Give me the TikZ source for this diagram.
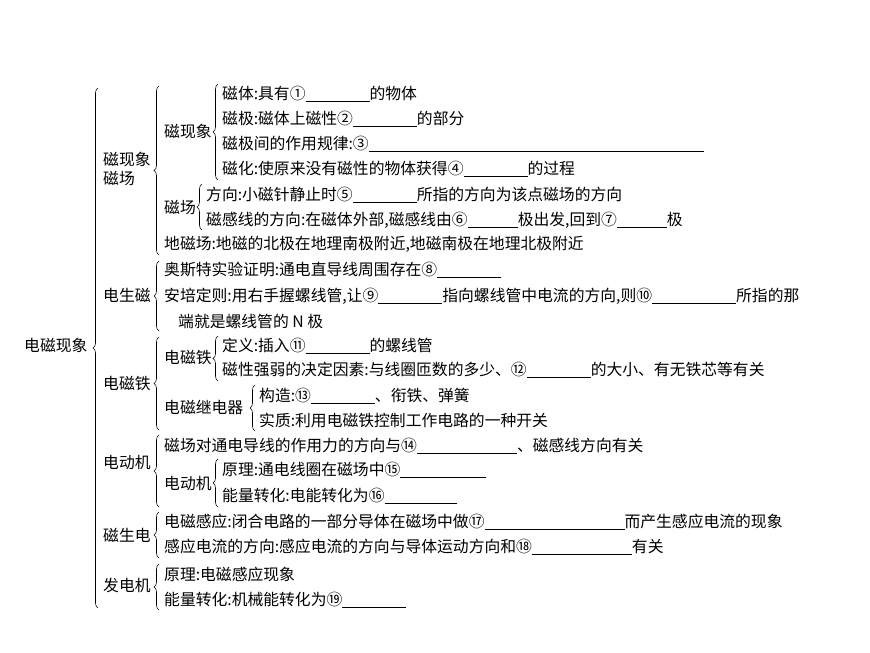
\documentclass[tikz,border=0pt]{standalone}
\usepackage{fontspec}
\setmainfont{Noto Sans CJK SC}
\usetikzlibrary{decorations.pathreplacing}
\newcommand\bl[1]{\rule[-2.5pt]{#1pt}{0.6pt}}
\tikzset{t/.style={anchor=west,inner sep=0pt,font=\fontsize{15.8}{19}\selectfont},
 br/.style={decorate,decoration={brace,amplitude=5pt},line width=0.6pt}}
\begin{document}
\begin{tikzpicture}[x=1pt,y=-1pt]
\useasboundingbox (0,0) rectangle (870,653);
\node[t] (root) at (24,345) {电磁现象};
\draw[br] (98,608) -- (98,88);
% level 1
\node[t,align=left] (cxx) at (103,169) {磁现象\\磁场};
\node[t] (dsc) at (103,295) {电生磁};
\node[t] (dct) at (103,383) {电磁铁};
\node[t] (ddj) at (103,462) {电动机};
\node[t] (csd) at (103,535) {磁生电};
\node[t] (fdj) at (103,585) {发电机};
% 磁现象 磁场
\draw[br] (159,255) -- (159,86);
\node[t] (cx) at (164,131) {磁现象};
\node[t] (cc) at (164,207) {磁场};
\node[t] (dcc) at (164,244) {地磁场:地磁的北极在地理南极附近,地磁南极在地理北极附近};
\draw[br] (218,180) -- (218,84);
\node[t] (a1) at (222,94) {磁体:具有①\bl{64}的物体};
\node[t] (a2) at (222,119) {磁极:磁体上磁性②\bl{64}的部分};
\node[t] (a3) at (222,144) {磁极间的作用规律:③\bl{335}};
\node[t] (a4) at (222,169) {磁化:使原来没有磁性的物体获得④\bl{64}的过程};
\draw[br] (202,230) -- (202,184);
\node[t] (b1) at (206,195) {方向:小磁针静止时⑤\bl{64}所指的方向为该点磁场的方向};
\node[t] (b2) at (206,220) {磁感线的方向:在磁体外部,磁感线由⑥\bl{50}极出发,回到⑦\bl{50}极};
% 电生磁
\draw[br] (159,331) -- (159,261);
\node[t] (c1) at (164,270) {奥斯特实验证明:通电直导线周围存在⑧\bl{64}};
\node[t] (c2) at (164,296) {安培定则:用右手握螺线管,让⑨\bl{64}指向螺线管中电流的方向,则⑩\bl{84}所指的那};
\node[t] (c3) at (178,321) {端就是螺线管的 N 极};
% 电磁铁
\draw[br] (159,430) -- (159,337);
\node[t] (dct2) at (164,357) {电磁铁};
\node[t] (jdq) at (164,407) {电磁继电器};
\draw[br] (218,381) -- (218,336);
\node[t] (d1) at (222,346) {定义:插入⑪\bl{64}的螺线管};
\node[t] (d2) at (222,370) {磁性强弱的决定因素:与线圈匝数的多少、⑫\bl{64}的大小、有无铁芯等有关};
\draw[br] (255,431) -- (255,385);
\node[t] (e1) at (259,396) {构造:⑬\bl{64}、衔铁、弹簧};
\node[t] (e2) at (259,420) {实质:利用电磁铁控制工作电路的一种开关};
% 电动机
\draw[br] (159,507) -- (159,435);
\node[t] (f1) at (164,446) {磁场对通电导线的作用力的方向与⑭\bl{100}、磁感线方向有关};
\node[t] (ddj2) at (164,483) {电动机};
\draw[br] (218,507) -- (218,459);
\node[t] (g1) at (222,470) {原理:通电线圈在磁场中⑮\bl{86}};
\node[t] (g2) at (222,496) {能量转化:电能转化为⑯\bl{72}};
% 磁生电
\draw[br] (159,558) -- (159,512);
\node[t] (h1) at (164,522) {电磁感应:闭合电路的一部分导体在磁场中做⑰\bl{140}而产生感应电流的现象};
\node[t] (h2) at (164,547) {感应电流的方向:感应电流的方向与导体运动方向和⑱\bl{100}有关};
% 发电机
\draw[br] (159,610) -- (159,564);
\node[t] (i1) at (164,574) {原理:电磁感应现象};
\node[t] (i2) at (164,600) {能量转化:机械能转化为⑲\bl{64}};
\end{tikzpicture}
\end{document}
